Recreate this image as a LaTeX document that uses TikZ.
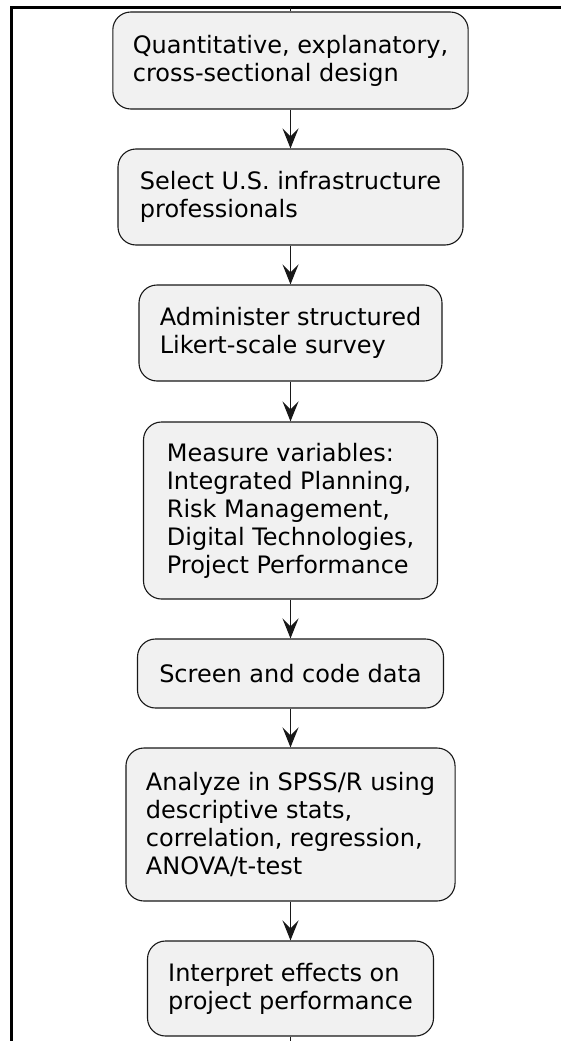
\documentclass[tikz,border=0pt]{standalone}
\usepackage{fontspec}
\newfontfamily\boxfont{DejaVu Sans}
\usetikzlibrary{arrows.meta}
\definecolor{boxfill}{HTML}{F1F1F1}
\definecolor{ink}{HTML}{181818}
\tikzset{
  stepbox/.style={draw=ink, line width=1.1pt, fill=boxfill, rounded corners=18pt,
    align=left, inner xsep=20pt, inner ysep=0pt,
    font=\boxfont\fontsize{24}{28}\selectfont, text=black},
  flow/.style={draw=ink, line width=1.6pt,
    -{Stealth[length=20pt, width=16pt, inset=8pt]}},
  stub/.style={draw=ink, line width=1.6pt},
  frame/.style={draw=black, line width=2.6pt}
}
\begin{document}
\begin{tikzpicture}[x=1pt, y=-1pt]
  \useasboundingbox (0,0) rectangle (561,1041);

  % window frame
  \coordinate (fbl) at (11.5,1041);
  \coordinate (ftl) at (11.5,7.5);
  \coordinate (ftr) at (561,7.5);
  \draw[frame] (fbl) -- (ftl) -- (ftr);

  % process steps
  \node[stepbox, minimum width=351pt, minimum height=97pt] (b1) at (290.5,60.5)
    {Quantitative, explanatory,\\cross-sectional design};
  \node[stepbox, minimum width=345pt, minimum height=96pt] (b2) at (290.5,197)
    {Select U.S. infrastructure\\professionals};
  \node[stepbox, minimum width=303pt, minimum height=96pt] (b3) at (290.5,333)
    {Administer structured\\Likert-scale survey};
  \node[stepbox, minimum width=294pt, minimum height=177pt] (b4) at (290.5,510.5)
    {Measure variables:\\Integrated Planning,\\Risk Management,\\Digital Technologies,\\Project Performance};
  \node[stepbox, minimum width=306pt, minimum height=69pt] (b5) at (290.5,673.5)
    {Screen and code data};
  \node[stepbox, minimum width=328pt, minimum height=153pt] (b6) at (290.5,824.5)
    {Analyze in SPSS/R using\\descriptive stats,\\correlation, regression,\\ANOVA/t-test};
  \node[stepbox, minimum width=286pt, minimum height=95pt] (b7) at (290.5,988.5)
    {Interpret effects on\\project performance};

  % incoming and outgoing stubs
  \coordinate (in) at (290.5,7.5);
  \coordinate (out) at (290.5,1041);
  \draw[stub] (in) -- (b1.north);
  \draw[stub] (b7.south) -- (out);

  % connectors
  \draw[flow] (b1) -- (b2);
  \draw[flow] (b2) -- (b3);
  \draw[flow] (b3) -- (b4);
  \draw[flow] (b4) -- (b5);
  \draw[flow] (b5) -- (b6);
  \draw[flow] (b6) -- (b7);
\end{tikzpicture}
\end{document}
